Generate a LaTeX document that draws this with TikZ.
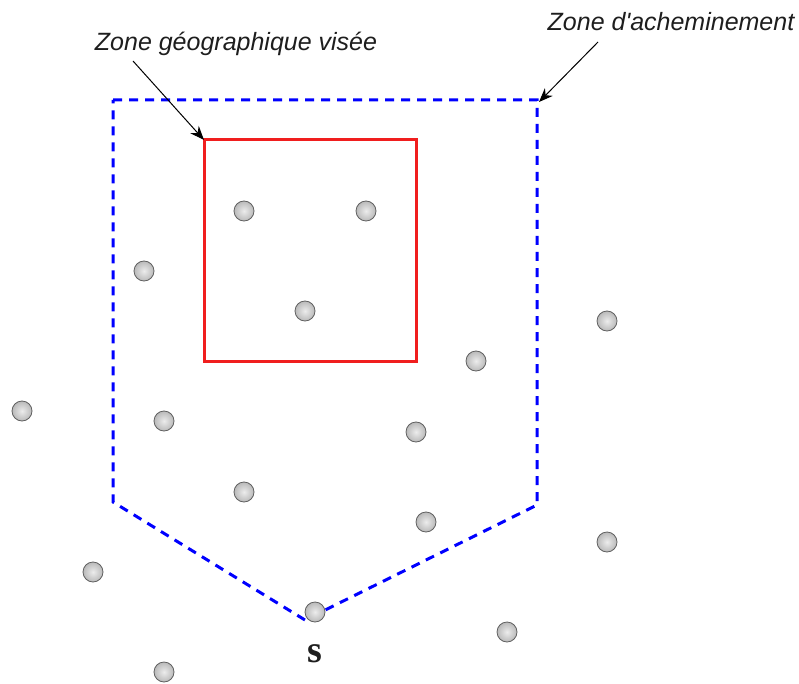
\documentclass[tikz,border=0pt]{standalone}
\usepackage{fontspec}
\setmainfont{Liberation Sans}
\newfontfamily\serifbold{Liberation Serif}
\usetikzlibrary{arrows.meta}
\definecolor{zoneblue}{RGB}{0,0,255}
\definecolor{zonered}{RGB}{240,30,30}
\definecolor{txt}{RGB}{30,30,30}
\tikzset{
  dot/.style={circle, minimum size=20pt, inner sep=0pt, draw=gray!75!black, line width=0.8pt,
    inner color=gray!15, outer color=gray!55},
  lbl/.style={font=\fontsize{25}{29}\selectfont\itshape, text=txt, inner sep=0pt},
  pointer/.style={draw=black, line width=1pt, -{Stealth[length=14pt,width=11pt]}},
  zone/.style={draw=zoneblue, line width=3pt, dash pattern=on 9pt off 7pt},
  target/.style={draw=zonered, line width=3pt}
}
\begin{document}
\begin{tikzpicture}[x=1pt,y=-1pt]
\useasboundingbox (0,0) rectangle (799,684);
% routing zone
\coordinate (p1) at (113,100);
\coordinate (p2) at (537,100);
\coordinate (p3) at (537,505);
\coordinate (p4) at (305,620);
\coordinate (p5) at (113,502);
\draw[zone] (p1) -- (p2) -- (p3) -- (p4) -- (p5) -- cycle;
% target zone
\coordinate (r1) at (204,140);
\coordinate (r2) at (416,361);
\draw[target] (r1) rectangle (r2);
% nodes
\foreach \n/\x/\y in {1/244/211, 2/366/211, 3/144/271, 4/305/311, 5/607/321, 6/476/361,
  7/22/411, 8/164/421, 9/416/432, 10/244/492, 11/426/522, 12/607/542, 13/93/572,
  14/315/612, 15/507/632, 16/164/672}
  \node[dot] (c\n) at (\x,\y) {};
\node[font=\serifbold\fontsize{38}{40}\selectfont\bfseries, text=txt] (s) at (315,654) {s};
% labels
\node[lbl] (t1) at (236,44) {Zone géographique visée};
\node[lbl] (t2) at (671,22) {Zone d\textquotesingle acheminement};
\coordinate (a1) at (133,61);
\coordinate (a2) at (598,42);
\draw[pointer] (a1) -- (r1);
\draw[pointer] (a2) -- ([xshift=2pt,yshift=-2pt]p2);
\end{tikzpicture}
\end{document}
